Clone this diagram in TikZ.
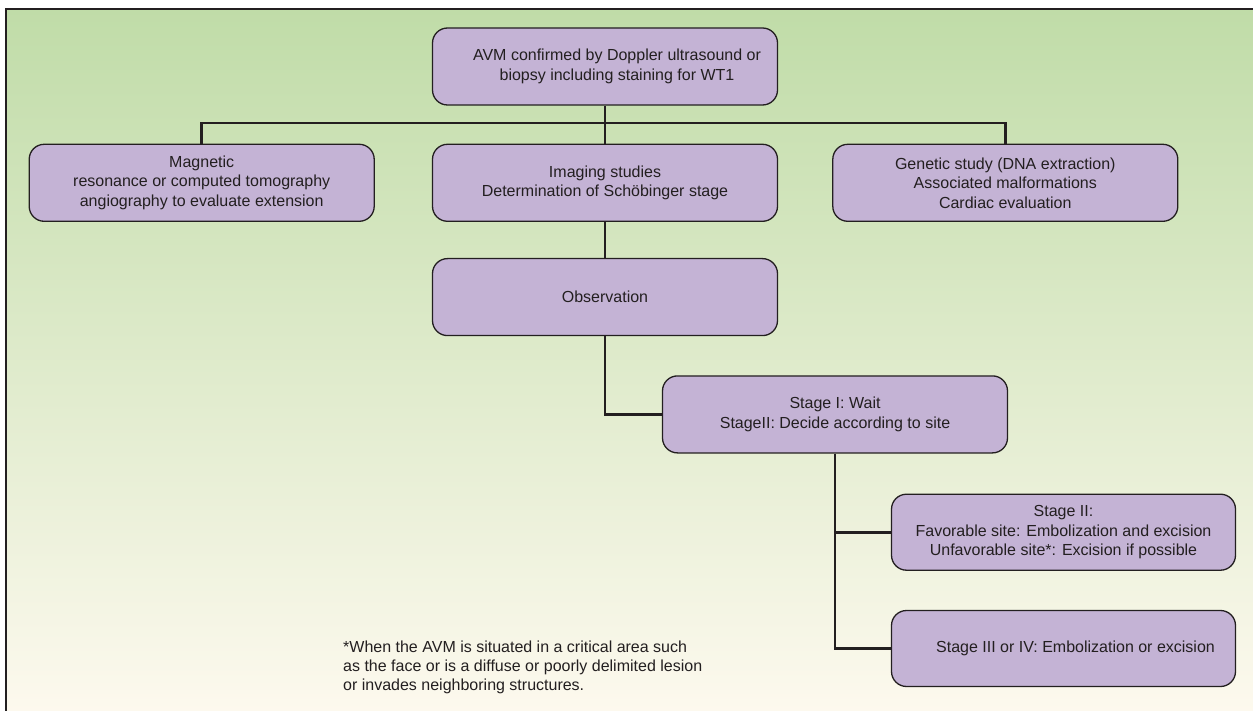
\documentclass[tikz,border=0pt]{standalone}
\usepackage{fontspec}
\setmainfont{Liberation Sans}
\usetikzlibrary{positioning}

\definecolor{boxfill}{HTML}{C4B3D5}
\definecolor{bgtop}{HTML}{C0DCA8}
\definecolor{bgmid}{HTML}{E3EDD7}
\definecolor{bgbot}{HTML}{FDF9EE}
\definecolor{ink}{HTML}{231F20}

\tikzset{
  stagebox/.style={draw=ink,line width=1.3pt,fill=boxfill,rounded corners=15pt,
    minimum width=345pt,minimum height=77pt,align=center,text=ink,
    font=\fontsize{16}{19.5}\selectfont},
  link/.style={draw=ink,line width=2.8pt},
}

\begin{document}
\begin{tikzpicture}[x=1pt,y=-1pt,node distance=38pt]
				\useasboundingbox (0,0) rectangle (1253,711);
				% background and frame
				\shade[top color=bgtop,middle color=bgmid,bottom color=bgbot] (6,9) rectangle (1253,711);
				\draw[ink,line width=2pt] (6,711) -- (6,9) -- (1253,9);
				% Now the first box (ID=top)
				\node[stagebox] (top) at (605,66.5) {\hspace*{24pt}AVM confirmed by Doppler ultrasound or\\\hspace*{24pt}biopsy including staining for WT1};
				% Now the three studies
				\node[stagebox] (imaging) [below = of top] {Imaging studies\\Determination of Schöbinger stage};
				\node[stagebox] (mri) [left = 57pt of imaging] {Magnetic\\resonance or computed tomography\\angiography to evaluate extension};
				\node[stagebox] (genetic) [right = 54pt of imaging] {Genetic study (DNA extraction)\\Associated malformations\\Cardiac evaluation};
				% Now the stages
				\node[stagebox] (obs) [below = 36pt of imaging] {Observation};
				\node[stagebox] (stage) [below = 39pt of obs,xshift=230pt] {Stage I: Wait\\StageII: Decide according to site};
				\node[stagebox,minimum width=344pt,minimum height=76pt] (stagetwo) [below = 40pt of stage,xshift=228.5pt] {Stage II:\\Favorable site: Embolization and excision\\Unfavorable site*: Excision if possible};
				\node[stagebox,minimum width=344pt,minimum height=76pt] (stagethree) [below = 39pt of stagetwo] {\hspace*{24pt}Stage III or IV: Embolization or excision};
				% footnote
				\node[anchor=north west,inner sep=0pt,align=left,text=ink,font=\fontsize{16}{19}\selectfont] (note) at (343,640.5)
							{*When the AVM is situated in a critical area such\\as the face or is a diffuse or poorly delimited lesion\\or invades neighboring structures.};
				% Draw the edges between the boxes
				\coordinate (bus) at (top.south |- 0,123);
				\path[link] (top) -- (imaging);
				\path[link] (mri.north) |- (bus) -| (genetic.north);
				\path[link] (imaging) -- (obs);
				\path[link] (obs.south) |- (stage.west);
				\path[link] (stage.south) |- (stagetwo.west);
				\path[link] (stage.south) |- (stagethree.west);
			\end{tikzpicture}
\end{document}
